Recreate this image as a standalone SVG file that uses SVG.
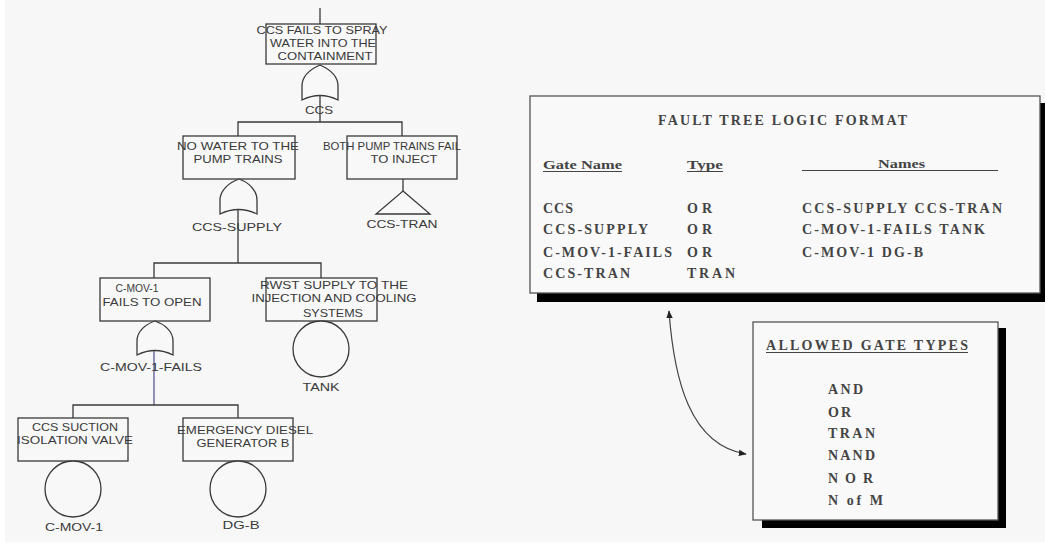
<svg xmlns="http://www.w3.org/2000/svg" width="1045" height="552" viewBox="0 0 1045 552">
<defs>
<style>
.bx{fill:#f8f8f8;stroke:#3a3a3a;stroke-width:1.3}
.ln{fill:none;stroke:#3a3a3a;stroke-width:1.3}
.gt{fill:#f8f8f8;stroke:#3a3a3a;stroke-width:1.3}
.ul{stroke:#444;stroke-width:1.2}
.t{font-family:"Liberation Sans",Arial,sans-serif;font-size:11.5px;fill:#3a3a3a;text-anchor:middle}
.s{font-family:"Liberation Serif","Times New Roman",serif;font-size:14px;font-weight:bold;fill:#444}
.h{font-family:"Liberation Serif","Times New Roman",serif;font-size:12.5px;font-weight:bold;fill:#444}
</style>
<marker id="ah" viewBox="0 0 10 10" refX="9" refY="5" markerWidth="8" markerHeight="8" orient="auto-start-reverse" markerUnits="userSpaceOnUse">
<path d="M0,1 L10,5 L0,9 Z" fill="#222"/>
</marker>
</defs>
<rect x="0" y="0" width="1045" height="552" fill="#f7f7f7"/>
<rect x="0" y="0" width="5" height="552" fill="#ffffff"/>
<rect x="0" y="542" width="1045" height="10" fill="#ffffff"/>

<g id="connectors">
<line class="ln" x1="320" y1="8" x2="320" y2="24"/>
<line class="ln" x1="320" y1="96" x2="320" y2="122"/>
<polyline class="ln" points="238,136 238,122 402,122 402,136"/>
<line class="ln" x1="238" y1="210" x2="238" y2="263"/>
<line class="ln" x1="403" y1="179" x2="403" y2="191"/>
<polyline class="ln" points="154,278 154,263 321,263 321,278"/>
<line x1="154" y1="351" x2="154" y2="405" stroke="#5a5a94" stroke-width="1.3"/>
<polyline class="ln" points="73,418 73,405 238,405 238,418"/>
<path d="M669 311 C 674 380, 690 445, 746 454" fill="none" stroke="#444" stroke-width="1.2" marker-start="url(#ah)" marker-end="url(#ah)"/>
</g>

<g id="top">
<rect class="bx" x="266" y="24" width="110" height="40"/>
<text class="t" x="322" y="34" textLength="131" lengthAdjust="spacingAndGlyphs">CCS FAILS TO SPRAY</text>
<text class="t" x="323" y="47" textLength="106" lengthAdjust="spacingAndGlyphs">WATER INTO THE</text>
<text class="t" x="325" y="60" textLength="95" lengthAdjust="spacingAndGlyphs">CONTAINMENT</text>
</g>
<g id="gate-ccs">
<path class="gt" d="M302 100 L302 86 C302 76 311 69 320 65 C329 69 338 76 338 86 L338 100 Q320 91 302 100 Z"/>
<text class="t" x="319" y="114" textLength="28" lengthAdjust="spacingAndGlyphs">CCS</text>
</g>

<g id="no-water">
<rect class="bx" x="183" y="136" width="112" height="43"/>
<text class="t" x="238" y="150" textLength="122" lengthAdjust="spacingAndGlyphs">NO WATER TO THE</text>
<text class="t" x="238" y="163" textLength="89" lengthAdjust="spacingAndGlyphs">PUMP TRAINS</text>
</g>
<g id="gate-ccs-supply">
<path class="gt" d="M220 214 L220 200 C220 190 230 182 239 179 C248 182 257 190 257 200 L257 214 Q238.5 205 220 214 Z"/>
<text class="t" x="237" y="231" textLength="90" lengthAdjust="spacingAndGlyphs">CCS-SUPPLY</text>
</g>

<g id="both-pump">
<rect class="bx" x="347" y="136" width="110" height="43"/>
<text class="t" x="392" y="150" textLength="138" lengthAdjust="spacingAndGlyphs">BOTH PUMP TRAINS FAIL</text>
<text class="t" x="404" y="163" textLength="67" lengthAdjust="spacingAndGlyphs">TO INJECT</text>
</g>
<g id="tran-ccs-tran">
<polygon class="gt" points="403,191 430,214 376,214"/>
<text class="t" x="402" y="228" textLength="71" lengthAdjust="spacingAndGlyphs">CCS-TRAN</text>
</g>

<g id="cmov-fails">
<rect class="bx" x="100" y="278" width="110" height="43"/>
<text class="t" x="137" y="292" textLength="43" lengthAdjust="spacingAndGlyphs">C-MOV-1</text>
<text class="t" x="152" y="306" textLength="99" lengthAdjust="spacingAndGlyphs">FAILS TO OPEN</text>
</g>
<g id="gate-cmov-fails">
<path class="gt" d="M137 355 L137 341 C137 331 146 324 155 321 C164 324 173 331 173 341 L173 355 Q155 346 137 355 Z"/>
<text class="t" x="151" y="371" textLength="102" lengthAdjust="spacingAndGlyphs">C-MOV-1-FAILS</text>
</g>

<g id="rwst">
<rect class="bx" x="266" y="278" width="111" height="43"/>
<text class="t" x="334" y="289" textLength="148" lengthAdjust="spacingAndGlyphs">RWST SUPPLY TO THE</text>
<text class="t" x="334" y="302" textLength="165" lengthAdjust="spacingAndGlyphs">INJECTION AND COOLING</text>
<text class="t" x="333" y="317" textLength="60" lengthAdjust="spacingAndGlyphs">SYSTEMS</text>
</g>
<g id="tank">
<circle class="gt" cx="321" cy="349" r="28"/>
<text class="t" x="321" y="391" textLength="37" lengthAdjust="spacingAndGlyphs">TANK</text>
</g>

<g id="ccs-suction">
<rect class="bx" x="18" y="418" width="110" height="43"/>
<text class="t" x="75" y="431" textLength="86" lengthAdjust="spacingAndGlyphs">CCS SUCTION</text>
<text class="t" x="75" y="444" textLength="116" lengthAdjust="spacingAndGlyphs">ISOLATION VALVE</text>
</g>
<g id="cmov1">
<circle class="gt" cx="73" cy="489" r="28"/>
<text class="t" x="74" y="531" textLength="58" lengthAdjust="spacingAndGlyphs">C-MOV-1</text>
</g>

<g id="diesel">
<rect class="bx" x="183" y="418" width="110" height="43"/>
<text class="t" x="245" y="434" textLength="136" lengthAdjust="spacingAndGlyphs">EMERGENCY DIESEL</text>
<text class="t" x="243" y="447" textLength="93" lengthAdjust="spacingAndGlyphs">GENERATOR B</text>
</g>
<g id="dgb">
<circle class="gt" cx="238" cy="489" r="28"/>
<text class="t" x="241" y="529" textLength="37" lengthAdjust="spacingAndGlyphs">DG-B</text>
</g>

<g id="logic-format">
<rect x="537" y="103" width="510" height="199" fill="#000"/>
<rect x="530" y="96" width="510" height="197" fill="#f9f9f9" stroke="#555" stroke-width="1.3"/>
<text class="s" x="658" y="125" textLength="249" lengthAdjust="spacing">FAULT TREE LOGIC FORMAT</text>
<text class="h" x="543" y="169" textLength="79" lengthAdjust="spacingAndGlyphs">Gate Name</text>
<line class="ul" x1="543" y1="171.5" x2="622" y2="171.5"/>
<text class="h" x="687" y="169" textLength="36" lengthAdjust="spacingAndGlyphs">Type</text>
<line class="ul" x1="687" y1="171.5" x2="723" y2="171.5"/>
<line class="ul" x1="802" y1="170.5" x2="998" y2="170.5"/>
<text class="h" x="878" y="168" textLength="47" lengthAdjust="spacingAndGlyphs">Names</text>
<text class="s" x="543" y="213" textLength="30" lengthAdjust="spacing">CCS</text>
<text class="s" x="543" y="234" textLength="105" lengthAdjust="spacing">CCS-SUPPLY</text>
<text class="s" x="543" y="257" textLength="129" lengthAdjust="spacing">C-MOV-1-FAILS</text>
<text class="s" x="543" y="278" textLength="87" lengthAdjust="spacing">CCS-TRAN</text>
<text class="s" x="687" y="213" textLength="25" lengthAdjust="spacing">OR</text>
<text class="s" x="687" y="234" textLength="25" lengthAdjust="spacing">OR</text>
<text class="s" x="687" y="257" textLength="25" lengthAdjust="spacing">OR</text>
<text class="s" x="687" y="278" textLength="48" lengthAdjust="spacing">TRAN</text>
<text class="s" x="802" y="213" textLength="200" lengthAdjust="spacing">CCS-SUPPLY CCS-TRAN</text>
<text class="s" x="802" y="234" textLength="183" lengthAdjust="spacing">C-MOV-1-FAILS TANK</text>
<text class="s" x="802" y="257" textLength="121" lengthAdjust="spacing">C-MOV-1 DG-B</text>
</g>

<g id="allowed-types">
<rect x="762" y="328" width="244" height="200" fill="#000"/>
<rect x="753" y="322" width="245" height="198" fill="#f9f9f9" stroke="#555" stroke-width="1.3"/>
<text class="s" x="766" y="350" textLength="202" lengthAdjust="spacing">ALLOWED GATE TYPES</text>
<line class="ul" x1="766" y1="352.5" x2="968" y2="352.5"/>
<text class="s" x="828" y="394" textLength="35" lengthAdjust="spacing">AND</text>
<text class="s" x="828" y="417" textLength="23" lengthAdjust="spacing">OR</text>
<text class="s" x="828" y="438" textLength="47" lengthAdjust="spacing">TRAN</text>
<text class="s" x="828" y="460" textLength="47" lengthAdjust="spacing">NAND</text>
<text class="s" x="828" y="483" textLength="45" lengthAdjust="spacing">NOR</text>
<text class="s" x="828" y="505" textLength="55" lengthAdjust="spacing">N of M</text>
</g>
</svg>
